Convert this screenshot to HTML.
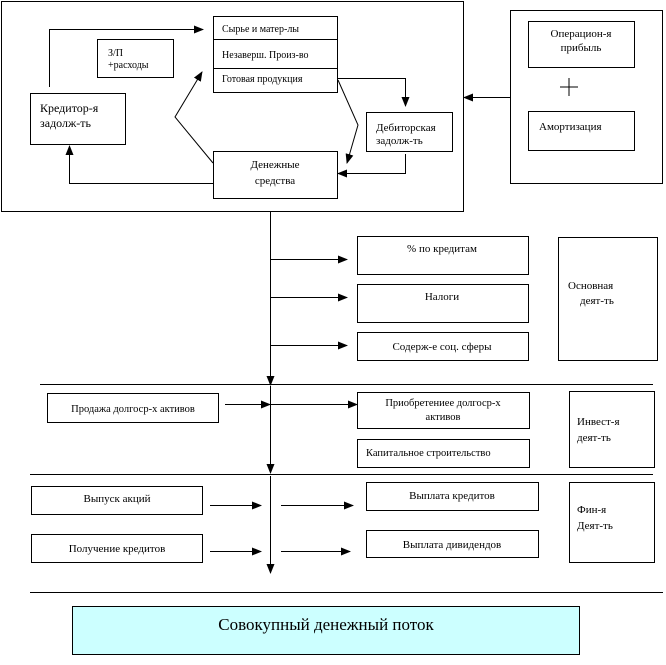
<!DOCTYPE html>
<html><head><meta charset="utf-8"><style>
html,body{margin:0;padding:0;background:#fff;}
svg text{font-family:"Liberation Serif","DejaVu Serif",serif;font-size:11px;fill:#000;}
</style></head><body>
<svg width="666" height="660" viewBox="0 0 666 660" xmlns="http://www.w3.org/2000/svg">
<defs>
<marker id="a" markerWidth="10" markerHeight="8" refX="9" refY="4" orient="auto" markerUnits="userSpaceOnUse">
<path d="M0,0 L10,4 L0,8 Z" fill="#000"/></marker>
</defs>
<g fill="none" stroke="#000" stroke-width="1">
<rect x="1.5" y="1.5" width="462" height="210"/>
<rect x="510.5" y="10.5" width="152" height="173"/>
<rect x="528.5" y="21.5" width="106" height="46"/>
<rect x="528.5" y="111.5" width="106" height="39"/>
<path d="M569,78 V96 M560,87 H578"/>
<path d="M510,97.5 H464" marker-end="url(#a)"/>
<rect x="213.5" y="16.5" width="124" height="76"/>
<path d="M213,39.5 H337 M213,68.5 H337"/>
<rect x="97.5" y="39.5" width="76" height="38"/>
<rect x="30.5" y="93.5" width="95" height="51"/>
<rect x="366.5" y="112.5" width="86" height="39"/>
<rect x="213.5" y="151.5" width="124" height="47"/>
<path d="M49.5,87 V29.5 H203" marker-end="url(#a)"/>
<path d="M213,183.5 H69.5 V146" marker-end="url(#a)"/>
<path d="M213,163 L175,117 L202,72" marker-end="url(#a)"/>
<path d="M337,78.5 H405.5 V106" marker-end="url(#a)"/>
<path d="M338,80 L358,125 L347,163" marker-end="url(#a)"/>
<path d="M405.5,154 V173.5 H338" marker-end="url(#a)"/>
<path d="M270.5,212 V385" marker-end="url(#a)"/>
<path d="M270,259.5 H347" marker-end="url(#a)"/>
<path d="M270,297.5 H347" marker-end="url(#a)"/>
<path d="M270,345.5 H347" marker-end="url(#a)"/>
<rect x="357.5" y="236.5" width="171" height="38"/>
<rect x="357.5" y="284.5" width="171" height="38"/>
<rect x="357.5" y="332.5" width="171" height="28"/>
<rect x="558.5" y="237.5" width="99" height="123"/>
<path d="M40,384.5 H653 M30,474.5 H653 M30,592.5 H663"/>
<rect x="47.5" y="393.5" width="171" height="29"/>
<path d="M225,404.5 H270" marker-end="url(#a)"/>
<path d="M270,404.5 H357" marker-end="url(#a)"/>
<path d="M270.5,386 V473" marker-end="url(#a)"/>
<rect x="357.5" y="392.5" width="172" height="36"/>
<rect x="357.5" y="439.5" width="172" height="28"/>
<rect x="569.5" y="391.5" width="85" height="76"/>
<rect x="31.5" y="486.5" width="171" height="28"/>
<rect x="31.5" y="534.5" width="171" height="28"/>
<path d="M210,505.5 H261" marker-end="url(#a)"/>
<path d="M210,551.5 H261" marker-end="url(#a)"/>
<path d="M281,505.5 H353" marker-end="url(#a)"/>
<path d="M281,551.5 H350" marker-end="url(#a)"/>
<path d="M270.5,476 V573" marker-end="url(#a)"/>
<rect x="366.5" y="482.5" width="172" height="28"/>
<rect x="366.5" y="530.5" width="172" height="27"/>
<rect x="569.5" y="482.5" width="85" height="80"/>
</g>
<rect x="72.5" y="606.5" width="507" height="48" fill="#ccffff" stroke="#000"/>
<text x="222" y="32" style="font-size:10px">Сырье и матер-лы</text>
<text x="222" y="58" style="font-size:10px">Незаверш. Произ-во</text>
<text x="222" y="82" style="font-size:10px">Готовая продукция</text>
<text x="108" y="56" style="font-size:10px">З/П</text>
<text x="108" y="68" style="font-size:10px">+расходы</text>
<text x="40" y="112" style="font-size:12px">Кредитор-я</text>
<text x="40" y="127" style="font-size:12px">задолж-ть</text>
<text x="376" y="131">Дебиторская</text>
<text x="376" y="144">задолж-ть</text>
<text x="275" y="168" text-anchor="middle">Денежные</text>
<text x="275" y="184" text-anchor="middle">средства</text>
<text x="581" y="37" text-anchor="middle">Операцион-я</text>
<text x="581" y="51" text-anchor="middle">прибыль</text>
<text x="539" y="130">Амортизация</text>
<text x="442" y="252" text-anchor="middle">% по кредитам</text>
<text x="442" y="300" text-anchor="middle">Налоги</text>
<text x="442" y="350" text-anchor="middle">Содерж-е соц. сферы</text>
<text x="568" y="289">Основная</text>
<text x="580" y="304">деят-ть</text>
<text x="133" y="412" text-anchor="middle" style="font-size:10.5px">Продажа долгоср-х активов</text>
<text x="443" y="406" text-anchor="middle" style="font-size:10.5px">Приобретениее долгоср-х</text>
<text x="443" y="420" text-anchor="middle" style="font-size:10.5px">активов</text>
<text x="366" y="456" style="font-size:10.5px">Капитальное строительство</text>
<text x="577" y="425">Инвест-я</text>
<text x="577" y="441">деят-ть</text>
<text x="117" y="502" text-anchor="middle">Выпуск акций</text>
<text x="117" y="552" text-anchor="middle">Получение кредитов</text>
<text x="452" y="499" text-anchor="middle">Выплата кредитов</text>
<text x="452" y="548" text-anchor="middle">Выплата дивидендов</text>
<text x="577" y="513">Фин-я</text>
<text x="577" y="529">Деят-ть</text>
<text x="326" y="630" text-anchor="middle" style="font-size:17px">Совокупный денежный поток</text>
</svg>
</body></html>
